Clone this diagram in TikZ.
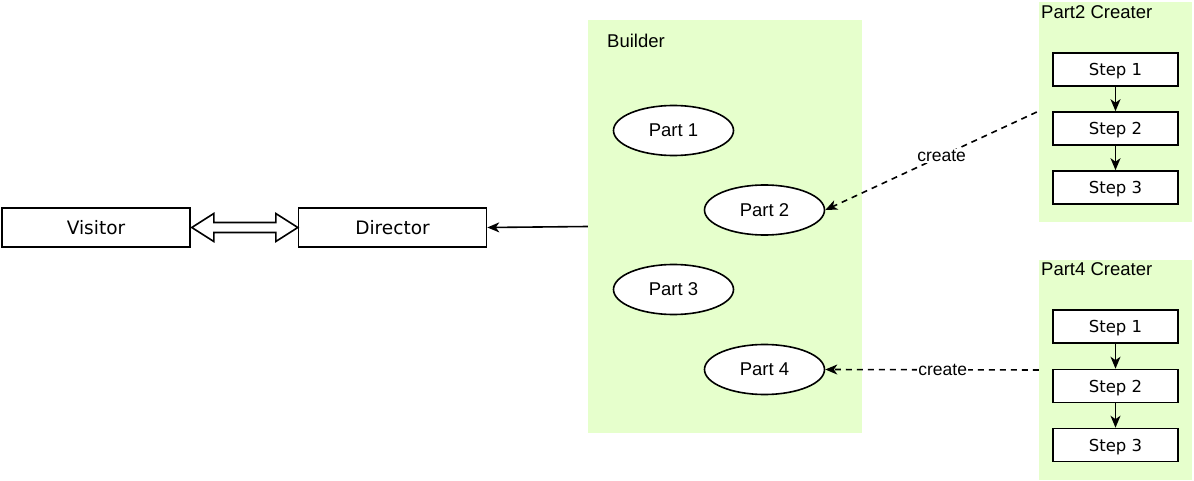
\documentclass[tikz,border=0pt]{standalone}
\usepackage{fontspec}
\setmainfont{Liberation Sans}
\newfontfamily\dejavu{DejaVu Sans}
\usetikzlibrary{arrows.meta,shapes.geometric}
\definecolor{grp}{HTML}{E6FFCC}
\tikzset{
  lw/.style={line width=1.6pt},
  box/.style={draw, lw, fill=white, minimum width=188pt, minimum height=39pt, inner sep=0pt, text depth=0pt, font=\dejavu\fontsize{18.5}{22}\selectfont},
  stepbox/.style={draw, lw, fill=white, minimum width=125pt, minimum height=33pt, inner sep=0pt, text depth=0pt, font=\dejavu\fontsize{16.5}{20}\selectfont},
  part/.style={draw, lw, fill=white, ellipse, minimum width=120pt, minimum height=50pt, inner sep=0pt, font=\fontsize{18.5}{22}\selectfont},
  group/.style={fill=grp, draw=none, inner sep=0pt},
  glabel/.style={anchor=west, inner sep=0pt, font=\fontsize{18.5}{22}\selectfont},
  arr/.style={lw, -{Stealth[length=12pt,width=10pt,inset=3.5pt]}},
  darr/.style={arr, dash pattern=on 6pt off 5pt},
  clabel/.style={fill=white, inner sep=1pt, text depth=0pt, font=\fontsize{17.5}{21}\selectfont},
}
\begin{document}
\begin{tikzpicture}[x=1pt,y=-1pt]
\useasboundingbox (0,0) rectangle (1194,481);
% groups
\node[group, minimum width=274pt, minimum height=413pt] (builder) at (725,226.5) {};
\node[glabel] (blabel) at (607,41) {Builder};
\node[group, minimum width=153pt, minimum height=220pt] (c2) at (1115.5,112) {};
\node[glabel] (c2label) at (1041,12) {Part2 Creater};
\node[group, minimum width=153pt, minimum height=220pt] (c4) at (1115.5,370) {};
\node[glabel] (c4label) at (1041,269) {Part4 Creater};
% main boxes
\node[box] (visitor) at (96,227.5) {Visitor};
\node[box] (director) at (392.5,227.5) {Director};
% parts
\node[part] (p1) at (673.5,130.5) {Part 1};
\node[part] (p2) at (764.5,210) {Part 2};
\node[part] (p3) at (673.5,289.5) {Part 3};
\node[part] (p4) at (764.5,369.5) {Part 4};
% steps
\node[stepbox] (a1) at (1115.5,69.5) {Step 1};
\node[stepbox] (a2) at (1115.5,128.5) {Step 2};
\node[stepbox] (a3) at (1115.5,187.5) {Step 3};
\node[stepbox] (b1) at (1115.5,326.5) {Step 1};
\node[stepbox] (b2) at (1115.5,386) {Step 2};
\node[stepbox] (b3) at (1115.5,445) {Step 3};
% connectors
\draw[arr] (a1) -- (a2);
\draw[arr] (a2) -- (a3);
\draw[arr] (b1) -- (b2);
\draw[arr] (b2) -- (b3);
\draw[arr] (builder.west) -- (director.east);
\draw[darr] ([xshift=-2pt]c2.west) -- node[clabel, pos=0.45] {create} (p2.east);
\draw[darr] (c4.west) -- node[clabel, pos=0.45] {create} (p4.east);
% double arrow
\draw[lw, fill=white, line join=miter]
  ([xshift=1pt]visitor.east) -- ++(22,-14) -- ++(0,9) -- ++(62,0) -- ++(0,-9)
  -- ++(22,14) -- ++(-22,14) -- ++(0,-9) -- ++(-62,0) -- ++(0,9) -- cycle;
\end{tikzpicture}
\end{document}
